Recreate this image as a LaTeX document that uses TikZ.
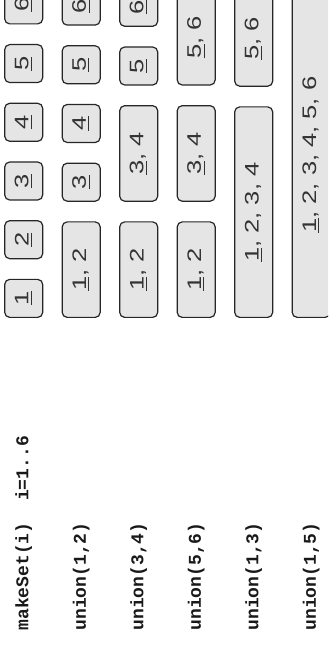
\documentclass[tikz,border=0pt]{standalone}
\usepackage{fontspec}
\setmonofont{Liberation Mono}
\newfontfamily\setfont[FakeStretch=1.3]{Liberation Sans}
\usetikzlibrary{positioning}

\begin{document}
\begin{tikzpicture}[
  x=0.5pt, y=-0.5pt, rotate=90, transform shape,
  node distance=9.75pt,
  set/.style={rectangle, rounded corners=2.5pt, draw=black!85, fill=black!10, line width=0.6pt,
    minimum height=19pt, inner sep=0pt, text=black!80, font=\setfont\fontsize{9.8}{11}\selectfont},
  one/.style={set, minimum width=19pt},
  two/.style={set, minimum width=47.75pt},
  four/.style={set, minimum width=105.25pt},
  six/.style={set, minimum width=162.75pt},
  op/.style={anchor=west, inner sep=0pt, text=black!90, font=\ttfamily\bfseries\fontsize{9}{11}\selectfont}
]
\useasboundingbox (0,0) rectangle (648,328);
\clip (0,0) rectangle (648,328);

% Operations
\node[op] (make) at (17,23.7) {makeSet(i)\ \ i=1..6};
\node[op] (u12) at (17,81.2) {union(1,2)};
\node[op] (u34) at (17,138.7) {union(3,4)};
\node[op] (u56) at (17,196.2) {union(5,6)};
\node[op] (u13) at (17,253.7) {union(1,3)};
\node[op] (u15) at (17,311.2) {union(1,5)};

% Sets after makeSet
\node[one, anchor=west] (a1) at (330,23.7) {\underline{1}};
\foreach \i [count=\j] in {2,...,6}
  \node[one, right=of a\j] (a\i) {\underline{\i}};

% Sets after union(1,2)
\node[two, anchor=west] (b12) at (330,81.2) {\underline{1}, 2};
\node[one, right=of b12] (b3) {\underline{3}};
\node[one, right=of b3] (b4) {\underline{4}};
\node[one, right=of b4] (b5) {\underline{5}};
\node[one, right=of b5] (b6) {\underline{6}};

% Sets after union(3,4)
\node[two, anchor=west] (c12) at (330,138.7) {\underline{1}, 2};
\node[two, right=of c12] (c34) {\underline{3}, 4};
\node[one, right=of c34] (c5) {\underline{5}};
\node[one, right=of c5] (c6) {\underline{6}};

% Sets after union(5,6)
\node[two, anchor=west] (d12) at (330,196.2) {\underline{1}, 2};
\node[two, right=of d12] (d34) {\underline{3}, 4};
\node[two, right=of d34] (d56) {\underline{5}, 6};

% Sets after union(1,3)
\node[four, anchor=west] (e14) at (330,253.7) {\underline{1}, 2, 3, 4};
\node[two, right=of e14] (e56) {\underline{5}, 6};

% Sets after union(1,5)
\node[six, anchor=west] (f16) at (330,311.2) {\underline{1}, 2, 3, 4, 5, 6};
\end{tikzpicture}
\end{document}
